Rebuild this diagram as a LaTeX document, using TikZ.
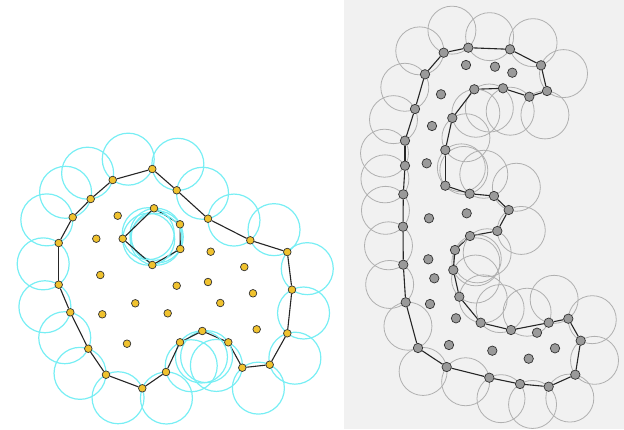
\documentclass[tikz,border=0pt]{standalone}
\usetikzlibrary{calc}
\definecolor{ringcyan}{HTML}{78EEF4}
\definecolor{dotgold}{HTML}{F0C22E}
\definecolor{dotgrey}{HTML}{9A9A9A}
\definecolor{ringgrey}{HTML}{B0B0B0}
\definecolor{panelgrey}{HTML}{F1F1F1}
\pgfdeclarelayer{bg}
\pgfsetlayers{bg,main}
\begin{document}
\begin{tikzpicture}[x=1pt,y=-1pt,
  dl/.style={circle,draw=black!80,line width=0.7pt,fill=dotgold,inner sep=0pt,minimum size=7.6pt},
  dr/.style={dl,fill=dotgrey,minimum size=9.4pt},
  rl/.style={draw=ringcyan,line width=1.2pt},
  rr/.style={draw=ringgrey,line width=0.8pt},
  ed/.style={draw=black!85,line width=1.1pt}]
\useasboundingbox (0,0) rectangle (624,429);
\def\rL{26pt}\def\rR{24pt}
% left shape: outline, hole, inside points
\foreach \x/\y [count=\i] in {152.3/169,176.7/190.3,208/218.7,250.3/240.3,287.3/252,292/289.7,287.3/333.3,269.7/364.7,242.3/367.7,228.3/342.3,202.3/331,180/342.3,166/372,142.3/388.3,106/374.7,88.3/348.7,70.3/312.3,58.7/284.7,58.7/243,72.7/217.3,90.7/199,112.7/180}
  \node[dl] (a\i) at (\x,\y) {};
\foreach \x/\y [count=\i] in {154/208.3,180/224.3,180.3/249,152.3/265,122.7/238.7}
  \node[dl] (h\i) at (\x,\y) {};
\foreach \x/\y [count=\i] in {117.7/215.7,96.3/238.7,100.3/275,102.3/314.3,135.3/303.3,127/343.7,167.7/313.3,176.7/285.7,208/282,210.7/251.7,244.3/267,253/293.3,220.3/303,256.7/329.3}
  \node[dl] (m\i) at (\x,\y) {};
% right shape
\foreach \x/\y [count=\i] in {443.7/52.7,468.3/47.7,510/49.3,541/65.3,547/91,529.3/96.7,503/88.3,474.3/89.3,452.3/118,445.3/150,445.3/185.7,469.7/193.7,494/196,508.7/210,497.3/231,470/236,455/250,453.3/270,459.3/296.7,480.7/322.7,511/330,548.7/322.7,568.3/318.7,580.7/340.7,575.3/374.7,548.7/386.7,520/384,489.3/377.7,446.7/367,418/348,405.7/302.3,403.3/264.7,403/226.7,403.3/194.3,405/165.7,405/140.7,415/109,425/74.3}
  \node[dr] (b\i) at (\x,\y) {};
\foreach \x/\y [count=\i] in {466/65,495/66.7,512.3/72.7,441/94.3,432/126,426.7/163.3,429/218.3,466.7/213.3,428.3/259.3,434.3/278.3,430/304,456/318.3,537/332.7,449/345,555/348.3,492.3/350.7,528.7/358.7}
  \node[dr] (n\i) at (\x,\y) {};
\begin{pgfonlayer}{bg}
\fill[panelgrey] (344,0) rectangle (624,429);
\foreach \i [evaluate=\i as \j using {int(mod(\i,22)+1)}] in {1,...,22}{
  \draw[rl] let \p1=($(a\j)-(a\i)$), \n1={veclen(\x1,\y1)}, \n2={sqrt(max(\rL*\rL-\n1*\n1/4,0))} in ($(a\i)!0.5!(a\j)!\n2!90:(a\j)$) circle[radius=\rL];
  \draw[ed] (a\i) -- (a\j);}
\foreach \i [evaluate=\i as \j using {int(mod(\i,5)+1)}] in {1,...,5}{
  \draw[rl] let \p1=($(h\j)-(h\i)$), \n1={veclen(\x1,\y1)}, \n2={sqrt(max(\rL*\rL-\n1*\n1/4,0))} in ($(h\i)!0.5!(h\j)!\n2!-90:(h\j)$) circle[radius=\rL];
  \draw[ed] (h\i) -- (h\j);}
\foreach \i [evaluate=\i as \j using {int(mod(\i,38)+1)}] in {1,...,38}{
  \draw[rr] let \p1=($(b\j)-(b\i)$), \n1={veclen(\x1,\y1)}, \n2={sqrt(max(\rR*\rR-\n1*\n1/4,0))} in ($(b\i)!0.5!(b\j)!\n2!90:(b\j)$) circle[radius=\rR];
  \draw[ed] (b\i) -- (b\j);}
\end{pgfonlayer}
\end{tikzpicture}
\end{document}
